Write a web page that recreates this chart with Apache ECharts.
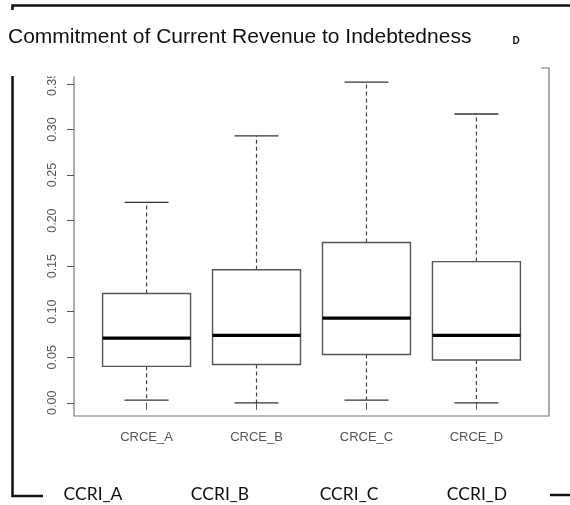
<!DOCTYPE html>
<html>
<head>
<meta charset="utf-8">
<script src="https://cdn.jsdelivr.net/npm/echarts@6/dist/echarts.min.js"></script>
<style>
  html, body { margin: 0; padding: 0; background: #fff; }
  #chart { width: 570px; height: 505px; }
</style>
</head>
<body>
<div id="chart"></div>
<script>
// Box-plot categories and their five-number summaries
const categories = ['CRCE_A', 'CRCE_B', 'CRCE_C', 'CRCE_D'];
const whiskerLow  = [0.003, 0.000, 0.003, 0.000];
const q1          = [0.040, 0.042, 0.053, 0.047];
const median      = [0.071, 0.074, 0.093, 0.074];
const q3          = [0.120, 0.146, 0.176, 0.155];
const whiskerHigh = [0.220, 0.293, 0.352, 0.317];

// Y tick labels
const yTicks = [0.00, 0.05, 0.10, 0.15, 0.20, 0.25, 0.30, 0.35];

// Slide text
const titleText = 'Commitment of Current Revenue to Indebtedness';
const groupLabels = ['CCRI_A', 'CCRI_B', 'CCRI_C', 'CCRI_D'];

const positions = categories.map((c, i) => i + 1);
const boxData = categories.map((c, i) => [
  positions[i], whiskerLow[i], q1[i], median[i], q3[i], whiskerHigh[i]
]);

function renderBox(params, api) {
  const x = api.value(0);
  const lo = api.value(1), b1 = api.value(2), md = api.value(3), b3 = api.value(4), hi = api.value(5);
  const half = 0.4, cap = 0.2;
  const tl = api.coord([x - half, b3]);
  const br = api.coord([x + half, b1]);
  const cx = api.coord([x, 0])[0];
  const yLo = api.coord([x, lo])[1];
  const yHi = api.coord([x, hi])[1];
  const yMd = api.coord([x, md])[1];
  const capL = api.coord([x - cap, 0])[0];
  const capR = api.coord([x + cap, 0])[0];
  const whisk = { stroke: '#444', lineWidth: 1.2, lineDash: [4, 3] };
  const solid = { stroke: '#333', lineWidth: 1.3 };
  return {
    type: 'group',
    children: [
      { type: 'line', shape: { x1: cx, y1: tl[1], x2: cx, y2: yHi }, style: whisk },
      { type: 'line', shape: { x1: cx, y1: br[1], x2: cx, y2: yLo }, style: whisk },
      { type: 'line', shape: { x1: capL, y1: yHi, x2: capR, y2: yHi }, style: solid },
      { type: 'line', shape: { x1: capL, y1: yLo, x2: capR, y2: yLo }, style: solid },
      { type: 'rect', shape: { x: tl[0], y: tl[1], width: br[0] - tl[0], height: br[1] - tl[1] },
        style: { fill: '#fff', stroke: '#555', lineWidth: 1.4 } },
      { type: 'line', shape: { x1: tl[0], y1: yMd, x2: br[0], y2: yMd },
        style: { stroke: '#000', lineWidth: 3.2 } }
    ]
  };
}

const chart = echarts.init(document.getElementById('chart'), null, { renderer: 'canvas' });

const groupX = [93, 220, 349, 477];

const option = {
  animation: false,
  backgroundColor: '#fff',
  grid: {
    left: 74, right: 21, top: 68, bottom: 89,
    show: true, borderColor: '#777', borderWidth: 1.2, backgroundColor: 'transparent'
  },
  xAxis: {
    type: 'value',
    min: 0.34, max: 4.66,
    splitLine: { show: false },
    axisLine: { show: false },
    axisTick: { show: true, length: 7, customValues: positions, lineStyle: { color: '#555' } },
    axisLabel: {
      customValues: positions,
      margin: 15,
      color: '#555',
      fontFamily: 'Liberation Sans, Arial, sans-serif',
      fontSize: 13,
      formatter: v => categories[Math.round(v) - 1] || ''
    }
  },
  yAxis: {
    type: 'value',
    min: -0.0145, max: 0.3675,
    splitLine: { show: false },
    axisLine: { show: false },
    axisTick: { show: true, length: 7, customValues: yTicks, lineStyle: { color: '#555' } },
    axisLabel: {
      customValues: yTicks,
      rotate: 90,
      margin: 15,
      color: '#555',
      fontFamily: 'Liberation Sans, Arial, sans-serif',
      fontSize: 12.5,
      formatter: v => v.toFixed(2)
    }
  },
  series: [{
    type: 'custom',
    renderItem: renderBox,
    encode: { x: 0, y: [1, 2, 3, 4, 5] },
    data: boxData,
    clip: false,
    z: 3
  }],
  graphic: {
    elements: [
      // mask over the upper-left strip of the plot frame
      { type: 'rect', z: 100, shape: { x: 14, y: 55, width: 527, height: 21.5 }, style: { fill: '#fff' } },
      // slide frame lines
      { type: 'polyline', z: 101, shape: { points: [[12.5, 10], [12.5, 5.5], [570, 5.5]] },
        style: { stroke: '#111', lineWidth: 2.5, fill: null } },
      { type: 'polyline', z: 101, shape: { points: [[12.5, 76], [12.5, 496], [43, 496]] },
        style: { stroke: '#111', lineWidth: 2.5, fill: null } },
      { type: 'line', z: 101, shape: { x1: 550, y1: 495, x2: 570, y2: 495 },
        style: { stroke: '#111', lineWidth: 2.5 } },
      // title
      { type: 'text', z: 101, x: 8, y: 37,
        style: { text: titleText, fill: '#111', font: '21px "Liberation Sans", Arial, sans-serif',
                 textVerticalAlign: 'middle' } },
      { type: 'text', z: 101, x: 516, y: 41,
        style: { text: 'D', fill: '#111', font: 'bold 10px "Liberation Sans", Arial, sans-serif',
                 textAlign: 'center', textVerticalAlign: 'middle' } }
    ].concat(groupLabels.map((t, i) => ({
      type: 'text', z: 101, x: groupX[i], y: 494,
      style: { text: t, fill: '#111', font: '17.5px Lato, "Open Sans", sans-serif',
               textAlign: 'center', textVerticalAlign: 'middle' }
    })))
  }
};

chart.setOption(option);
</script>
</body>
</html>
